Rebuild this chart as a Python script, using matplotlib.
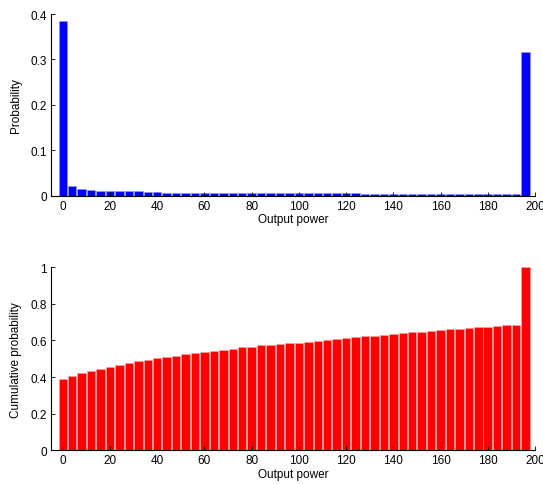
import matplotlib
matplotlib.use("Agg")
import matplotlib.pyplot as plt
import numpy as np

plt.rcParams['font.family'] = ['Liberation Sans', 'DejaVu Sans']

power = list(range(0, 200, 4))
prob = [0.385, 0.021, 0.015, 0.012, 0.011, 0.011, 0.010, 0.010, 0.010, 0.008,
        0.008, 0.007, 0.007, 0.007, 0.006, 0.006, 0.006, 0.006, 0.006, 0.006,
        0.005, 0.005, 0.005, 0.005, 0.005, 0.005, 0.005, 0.005, 0.005, 0.005,
        0.005, 0.005, 0.004, 0.004, 0.004, 0.004, 0.003, 0.003, 0.003, 0.003,
        0.003, 0.003, 0.003, 0.003, 0.003, 0.003, 0.003, 0.003, 0.003, 0.317]
cum = [0.387, 0.407, 0.422, 0.433, 0.444, 0.455, 0.465, 0.475, 0.486, 0.493,
       0.504, 0.509, 0.515, 0.525, 0.531, 0.536, 0.542, 0.547, 0.553, 0.562,
       0.567, 0.573, 0.576, 0.582, 0.587, 0.588, 0.593, 0.598, 0.604, 0.609,
       0.615, 0.620, 0.624, 0.625, 0.629, 0.635, 0.640, 0.645, 0.646, 0.651,
       0.656, 0.662, 0.663, 0.667, 0.673, 0.674, 0.678, 0.684, 0.685, 1.0]
xticks = list(range(0, 201, 20))

fig = plt.figure(figsize=(5.43, 4.85), dpi=100)
ax1 = fig.add_axes([0.0939, 0.5944, 0.8913, 0.3746])
ax2 = fig.add_axes([0.0939, 0.0695, 0.8913, 0.3773])

ax1.bar(power, prob, width=3.6, color='#0000ff', edgecolor='#9999ff', linewidth=0.4)
ax2.bar(power, cum, width=3.6, color='#ff0000', edgecolor='#ffaaaa', linewidth=0.4)

for ax, yl, yt, ylim in [(ax1, 'Probability', [0, 0.1, 0.2, 0.3, 0.4], 0.4),
                         (ax2, 'Cumulative probability', [0, 0.2, 0.4, 0.6, 0.8, 1], 1.0)]:
    ax.set_xlim(-5, 200)
    ax.set_ylim(0, ylim)
    ax.set_xticks(xticks)
    ax.set_xticklabels([str(t) for t in xticks])
    ax.set_yticks(yt)
    ax.set_yticklabels([('%g' % v) for v in yt])
    ax.spines['top'].set_visible(False)
    ax.spines['right'].set_visible(False)
    ax.spines['left'].set_linewidth(0.8)
    ax.spines['bottom'].set_linewidth(0.8)
    ax.tick_params(direction='in', length=3, width=0.6, labelsize=8.5, pad=3)
    ax.set_xlabel('Output power', fontsize=8.5, labelpad=1)
    ax.set_ylabel(yl, fontsize=8.5, labelpad=6)

fig.savefig('out.png', dpi=100)
